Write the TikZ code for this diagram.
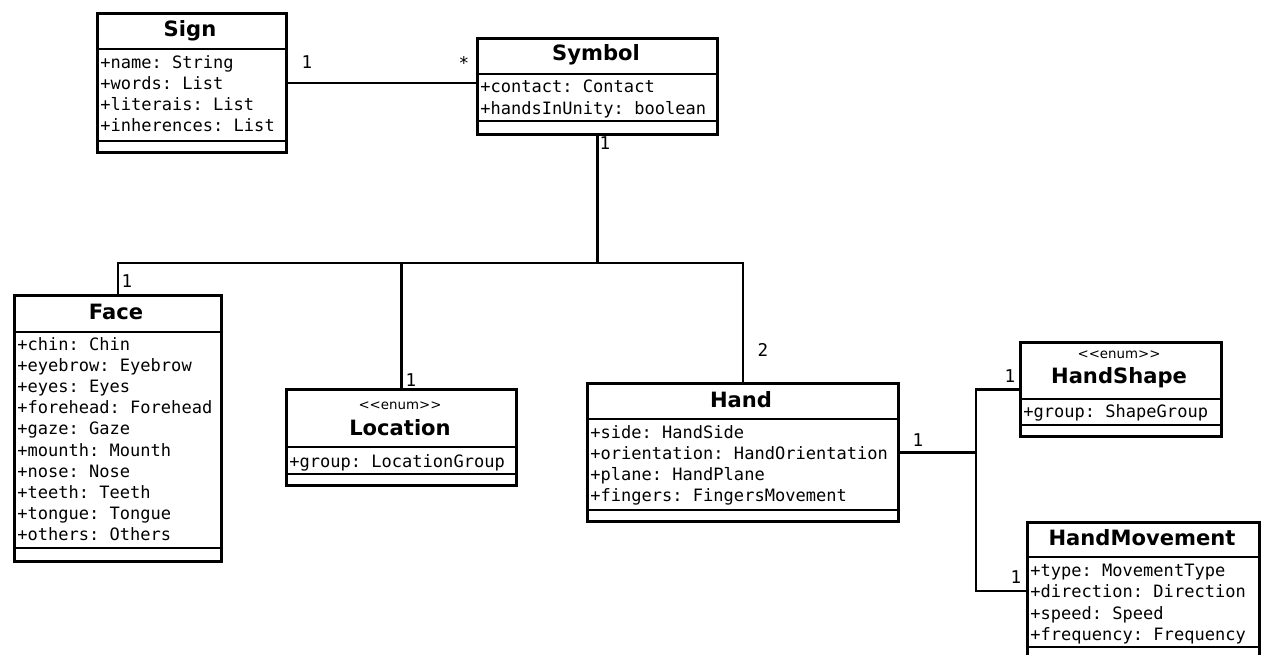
\documentclass[tikz,border=0pt]{standalone}
\usepackage{fontspec}
\setmainfont{DejaVu Sans}
\setmonofont{DejaVu Sans Mono}

\begin{document}
\begin{tikzpicture}[x=0.02cm,y=-0.02cm,
    cls/.style 2 args={draw,line width=1.7pt,anchor=north west,inner sep=0pt,
      minimum width=#1*0.02cm,minimum height=#2*0.02cm},
    title/.style={font=\fontsize{12}{14}\selectfont\bfseries,inner sep=0pt},
    stereo/.style={font=\fontsize{7.6}{9}\selectfont,inner sep=0pt},
    attr/.style={anchor=north west,align=left,inner sep=0pt,
      font=\ttfamily\fontsize{9.7}{12.05}\selectfont},
    mult/.style={font=\ttfamily\fontsize{10}{12}\selectfont,inner sep=0pt},
    rule/.style={line width=1.7pt},
    link/.style={line width=1.3pt}]
    \useasboundingbox (0,0) rectangle (1264,655);

    % Sign
    \node[cls={189}{139}] (sign) at (96,12) {};
    \draw[rule] (96,49)--(285,49) (96,141)--(285,141);
    \node[title] (sign-t) at (190,31) {Sign};
    \node[attr] (sign-a) at (100,55) {+name: String\\+words: List\\+literais: List\\+inherences: List};

    % Symbol
    \node[cls={240}{96}] (symbol) at (476,37) {};
    \draw[rule] (476,74)--(716,74) (476,121)--(716,121);
    \node[title] (symbol-t) at (596,55) {Symbol};
    \node[attr] (symbol-a) at (480,80) {+contact: Contact\\+handsInUnity: boolean};

    % Face
    \node[cls={207}{266}] (face) at (13,294) {};
    \draw[rule] (13,332)--(220,332) (13,548)--(220,548);
    \node[title] (face-t) at (116,312) {Face};
    \node[attr] (face-a) at (17,337) {+chin: Chin\\+eyebrow: Eyebrow\\+eyes: Eyes\\+forehead: Forehead\\+gaze: Gaze\\+mounth: Mounth\\+nose: Nose\\+teeth: Teeth\\+tongue: Tongue\\+others: Others};

    % Location
    \node[cls={230}{96}] (location) at (285,388) {};
    \draw[rule] (285,447)--(515,447) (285,474)--(515,474);
    \node[stereo] (location-s) at (400,406) {<{}<enum>{}>};
    \node[title] (location-t) at (400,428) {Location};
    \node[attr] (location-a) at (289,454) {+group: LocationGroup};

    % Hand
    \node[cls={311}{138}] (hand) at (586,382) {};
    \draw[rule] (586,419)--(897,419) (586,510)--(897,510);
    \node[title] (hand-t) at (741,400) {Hand};
    \node[attr] (hand-a) at (590,425) {+side: HandSide\\+orientation: HandOrientation\\+plane: HandPlane\\+fingers: FingersMovement};

    % HandShape
    \node[cls={201}{94}] (handshape) at (1019,341) {};
    \draw[rule] (1019,399)--(1220,399) (1019,425)--(1220,425);
    \node[stereo] (handshape-s) at (1119,355) {<{}<enum>{}>};
    \node[title] (handshape-t) at (1119,378) {HandShape};
    \node[attr] (handshape-a) at (1023,404) {+group: ShapeGroup};

    % HandMovement
    \node[cls={232}{137}] (handmove) at (1026,521) {};
    \draw[rule] (1026,557)--(1258,557) (1026,647)--(1258,647);
    \node[title] (handmove-t) at (1142,538) {HandMovement};
    \node[attr] (handmove-a) at (1030,564) {+type: MovementType\\+direction: Direction\\+speed: Speed\\+frequency: Frequency};

    % associations
    \coordinate (bus) at (0,263);
    \path (hand.east) ++(76,0) coordinate (split);
    \draw[link] (sign.east) -- (sign.east -| symbol.west);
    \draw[link] (symbol.south) -- (symbol.south |- bus);
    \draw[link] (face.north) |- (hand.north |- bus) -- (hand.north);
    \draw[link] (location.north) -- (location.north |- bus);
    \draw[link] (hand.east) -- (split);
    \draw[link] (handshape.west) -| (split) |- (handmove.west);

    \node[mult] (m-sign) at (307,62) {1};
    \node[mult] (m-symbol) at (464,63) {*};
    \node[mult] (m-top) at (605,143) {1};
    \node[mult] (m-face) at (127,281) {1};
    \node[mult] (m-loc) at (411,380) {1};
    \node[mult] (m-hand) at (763,350) {2};
    \node[mult] (m-out) at (918,440) {1};
    \node[mult] (m-shape) at (1010,376) {1};
    \node[mult] (m-move) at (1016,577) {1};
  \end{tikzpicture}
\end{document}
